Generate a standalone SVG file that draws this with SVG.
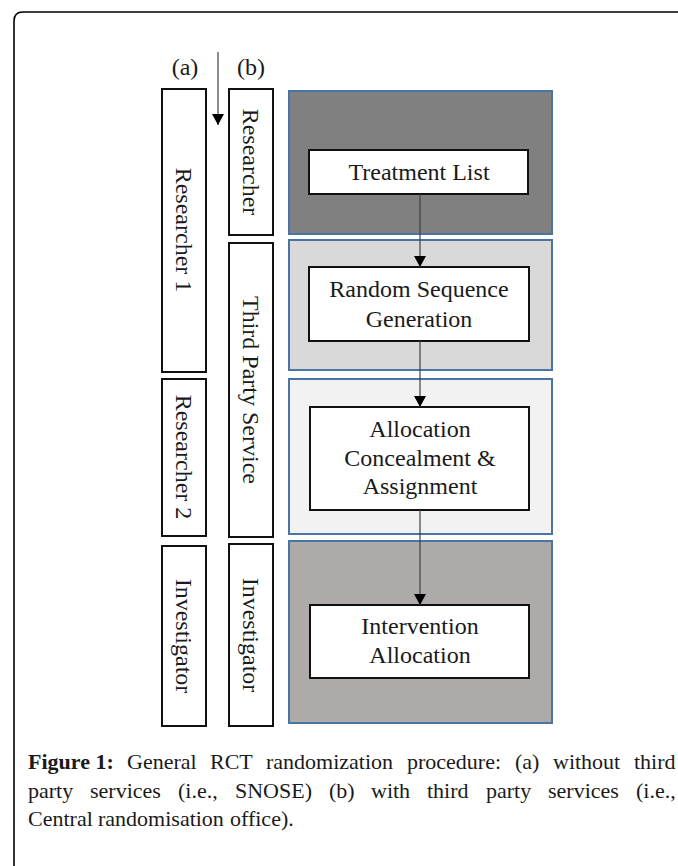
<svg xmlns="http://www.w3.org/2000/svg" width="678" height="866" viewBox="0 0 678 866">
<style>
.t{font-family:"Liberation Serif","Times New Roman",serif;font-size:24px;fill:#1a1a1a;text-anchor:middle}
.cap{font-family:"Liberation Serif","Times New Roman",serif;font-size:22px;fill:#1a1a1a}
.b{font-weight:bold}
.lane{fill:#fff;stroke:#111;stroke-width:2}
.box{fill:#fff;stroke:#111;stroke-width:2}
.panel{stroke:#4a74a4;stroke-width:2}
.con{stroke:#404040;stroke-width:1.2;fill:none}
</style>
<defs>
<marker id="ah" markerWidth="11" markerHeight="12" refX="11" refY="6" orient="auto" markerUnits="userSpaceOnUse">
<path d="M0,0 L11,6 L0,12 Z" fill="#000"/>
</marker>
</defs>
<rect width="678" height="866" fill="#fff"/>
<path d="M14,866 L14,21 Q14,12 23,12 L680,12" fill="none" stroke="#000" stroke-width="1.6"/>

<g id="label-a"><text class="t" x="185" y="75">(a)</text></g>
<g id="label-b"><text class="t" x="251" y="75">(b)</text></g>

<g id="panel-researcher"><rect class="panel" x="289" y="91" width="263" height="143" fill="#808080"/></g>
<g id="panel-third"><rect class="panel" x="289" y="240" width="263" height="130" fill="#d9d9d9"/></g>
<g id="panel-alloc"><rect class="panel" x="289" y="379" width="263" height="155" fill="#f2f2f2"/></g>
<g id="panel-invest"><rect class="panel" x="289" y="541" width="263" height="182" fill="#aeaaaa"/></g>

<g id="lane-a-researcher1"><rect class="lane" x="162" y="89" width="44" height="283"/><text class="t" transform="translate(184,230) rotate(90)" y="8">Researcher 1</text></g>
<g id="lane-a-researcher2"><rect class="lane" x="162" y="379" width="44" height="157"/><text class="t" transform="translate(184,457) rotate(90)" y="8">Researcher 2</text></g>
<g id="lane-a-investigator"><rect class="lane" x="162" y="546" width="44" height="180"/><text class="t" transform="translate(184,636) rotate(90)" y="8">Investigator</text></g>

<g id="lane-b-researcher"><rect class="lane" x="229" y="89" width="44" height="146"/><text class="t" transform="translate(251,162) rotate(90)" y="8">Researcher</text></g>
<g id="lane-b-third"><rect class="lane" x="229" y="243" width="44" height="294"/><text class="t" transform="translate(251,390) rotate(90)" y="8">Third Party Service</text></g>
<g id="lane-b-investigator"><rect class="lane" x="229" y="544" width="44" height="182"/><text class="t" transform="translate(251,635) rotate(90)" y="8">Investigator</text></g>

<g id="node-treatment"><rect class="box" x="309" y="150" width="219" height="44"/><text class="t" x="419" y="180">Treatment List</text></g>
<g id="node-random"><rect class="box" x="309" y="267" width="220" height="74"/><text class="t" x="419" y="297">Random Sequence</text><text class="t" x="419" y="327">Generation</text></g>
<g id="node-conceal"><rect class="box" x="310" y="407" width="219" height="103"/><text class="t" x="420" y="437">Allocation</text><text class="t" x="420" y="466">Concealment &amp;</text><text class="t" x="420" y="494">Assignment</text></g>
<g id="node-intervention"><rect class="box" x="310" y="605" width="219" height="73"/><text class="t" x="420" y="634">Intervention</text><text class="t" x="420" y="663">Allocation</text></g>

<g id="connectors">
<line class="con" x1="218" y1="52" x2="218" y2="125" marker-end="url(#ah)"/>
<line class="con" x1="420" y1="194" x2="420" y2="267" marker-end="url(#ah)"/>
<line class="con" x1="420" y1="341" x2="420" y2="407" marker-end="url(#ah)"/>
<line class="con" x1="420" y1="510" x2="420" y2="605" marker-end="url(#ah)"/>
</g>

<g id="caption">
<text class="cap" y="769"><tspan x="28" class="b">Figure 1:</tspan><tspan x="127">General</tspan><tspan x="210">RCT</tspan><tspan x="266">randomization</tspan><tspan x="407">procedure:</tspan><tspan x="515">(a)</tspan><tspan x="553">without</tspan><tspan x="634">third</tspan></text>
<text class="cap" y="798"><tspan x="28">party</tspan><tspan x="90">services</tspan><tspan x="178">(i.e.,</tspan><tspan x="235">SNOSE)</tspan><tspan x="329">(b)</tspan><tspan x="371">with</tspan><tspan x="427">third</tspan><tspan x="486">party</tspan><tspan x="548">services</tspan><tspan x="636">(i.e.,</tspan></text>
<text class="cap" y="826"><tspan x="28">Central</tspan><tspan x="98">randomisation</tspan><tspan x="230">office).</tspan></text>
</g>
</svg>
